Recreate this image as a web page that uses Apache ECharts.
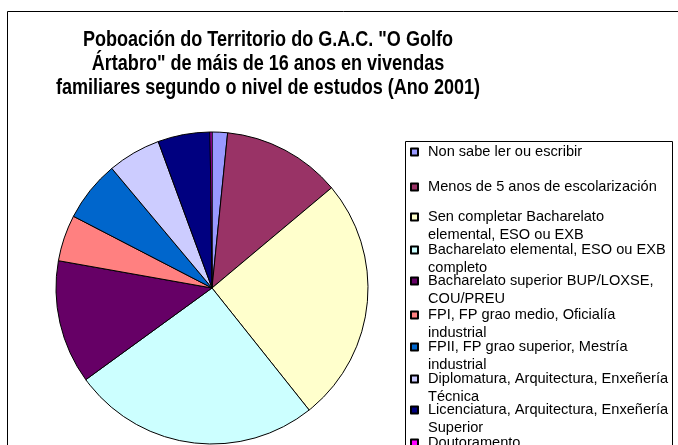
<!DOCTYPE html>
<html>
<head>
<meta charset="utf-8">
<script src="https://cdn.jsdelivr.net/npm/echarts@6/dist/echarts.min.js"></script>
<style>
  html, body { margin: 0; padding: 0; background: #fff; }
  #chart { width: 678px; height: 445px; }
</style>
</head>
<body>
<div id="chart"></div>
<script>
// niveis de estudos (orde da lenda)
const categories = [
  'Non sabe ler ou escribir',
  'Menos de 5 anos de escolarización',
  'Sen completar Bacharelato elemental, ESO ou EXB',
  'Bacharelato elemental, ESO ou EXB completo',
  'Bacharelato superior BUP/LOXSE, COU/PREU',
  'FPI, FP grao medio, Oficialía industrial',
  'FPII, FP grao superior, Mestría industrial',
  'Diplomatura, Arquitectura, Enxeñería Técnica',
  'Licenciatura, Arquitectura, Enxeñería Superior',
  'Doutoramento'
]
// texto da lenda tal como se parte en liñas
const legendText = [
  'Non sabe ler ou escribir',
  'Menos de 5 anos de escolarización',
  'Sen completar Bacharelato\nelemental, ESO ou EXB',
  'Bacharelato elemental, ESO ou EXB\ncompleto',
  'Bacharelato superior BUP/LOXSE,\nCOU/PREU',
  'FPI, FP grao medio, Oficialía\nindustrial',
  'FPII, FP grao superior, Mestría\nindustrial',
  'Diplomatura, Arquitectura, Enxeñería\nTécnica',
  'Licenciatura, Arquitectura, Enxeñería\nSuperior',
  'Doutoramento'
]
// porcentaxe aproximada de poboación
const values = [1.6, 12.3, 25.4, 25.7, 12.8, 4.8, 6.3, 5.5, 5.4, 0.2]
const colors = ['#9999FF', '#993366', '#FFFFCC', '#CCFFFF', '#660066',
  '#FF8080', '#0066CC', '#CCCCFF', '#000080', '#FF00FF']

const titleText = 'Poboación do Territorio do G.A.C. "O Golfo\nÁrtabro" de máis de 16 anos en vivendas\nfamiliares segundo o nivel de estudos (Ano 2001)'

const font = 'Liberation Sans, Arial, sans-serif'
// centro vertical da primeira liña de cada entrada da lenda
const legendY = [152, 187, 217, 250, 281, 315, 347, 379, 410, 443]

// unha lenda por entrada, como no Excel as entradas non van igual de separadas
const legends = categories.map((name, i) => {
  const twoLines = legendText[i].indexOf('\n') >= 0
  return {
    data: [name],
    orient: 'vertical',
    left: 410,
    top: legendY[i] - (twoLines ? 27 : 9),
    padding: 0,
    icon: 'rect',
    itemWidth: 7,
    itemHeight: 7,
    itemGap: 0,
    selectedMode: false,
    // liña baleira diante para que a primeira liña quede á altura do cadriño
    formatter: () => (twoLines ? '\n' : '') + legendText[i],
    textStyle: {
      fontFamily: font,
      fontSize: 14.6,
      color: '#000',
      lineHeight: 18,
      padding: [0, 0, 0, 5]
    }
  }
})

const chart = echarts.init(document.getElementById('chart'))
chart.setOption({
  backgroundColor: '#fff',
  animation: false,
  graphic: [
    {
      type: 'rect',
      shape: { x: 7.5, y: 11.5, width: 700, height: 460 },
      style: { fill: 'none', stroke: '#000', lineWidth: 1 },
      silent: true
    },
    {
      type: 'rect',
      shape: { x: 405.5, y: 141.5, width: 267, height: 330 },
      style: { fill: '#fff', stroke: '#000', lineWidth: 1 },
      silent: true,
      z: -1
    },
    {
      // título un pouco estreitado, coma no orixinal
      type: 'text',
      x: 268,
      y: 28,
      scaleX: 0.82,
      silent: true,
      style: {
        text: titleText,
        x: 0,
        y: 0,
        align: 'center',
        verticalAlign: 'top',
        font: 'bold 22px Liberation Sans, Arial, sans-serif',
        lineHeight: 24,
        fill: '#000'
      }
    }
  ],
  legend: legends,
  series: [{
    type: 'pie',
    center: [212, 288],
    radius: 156,
    startAngle: 90,
    clockwise: true,
    label: { show: false },
    labelLine: { show: false },
    emphasis: { disabled: true },
    itemStyle: { borderColor: '#000', borderWidth: 1 },
    data: categories.map((name, i) => ({
      name,
      value: values[i],
      itemStyle: { color: colors[i] }
    }))
  }]
})
</script>
</body>
</html>
